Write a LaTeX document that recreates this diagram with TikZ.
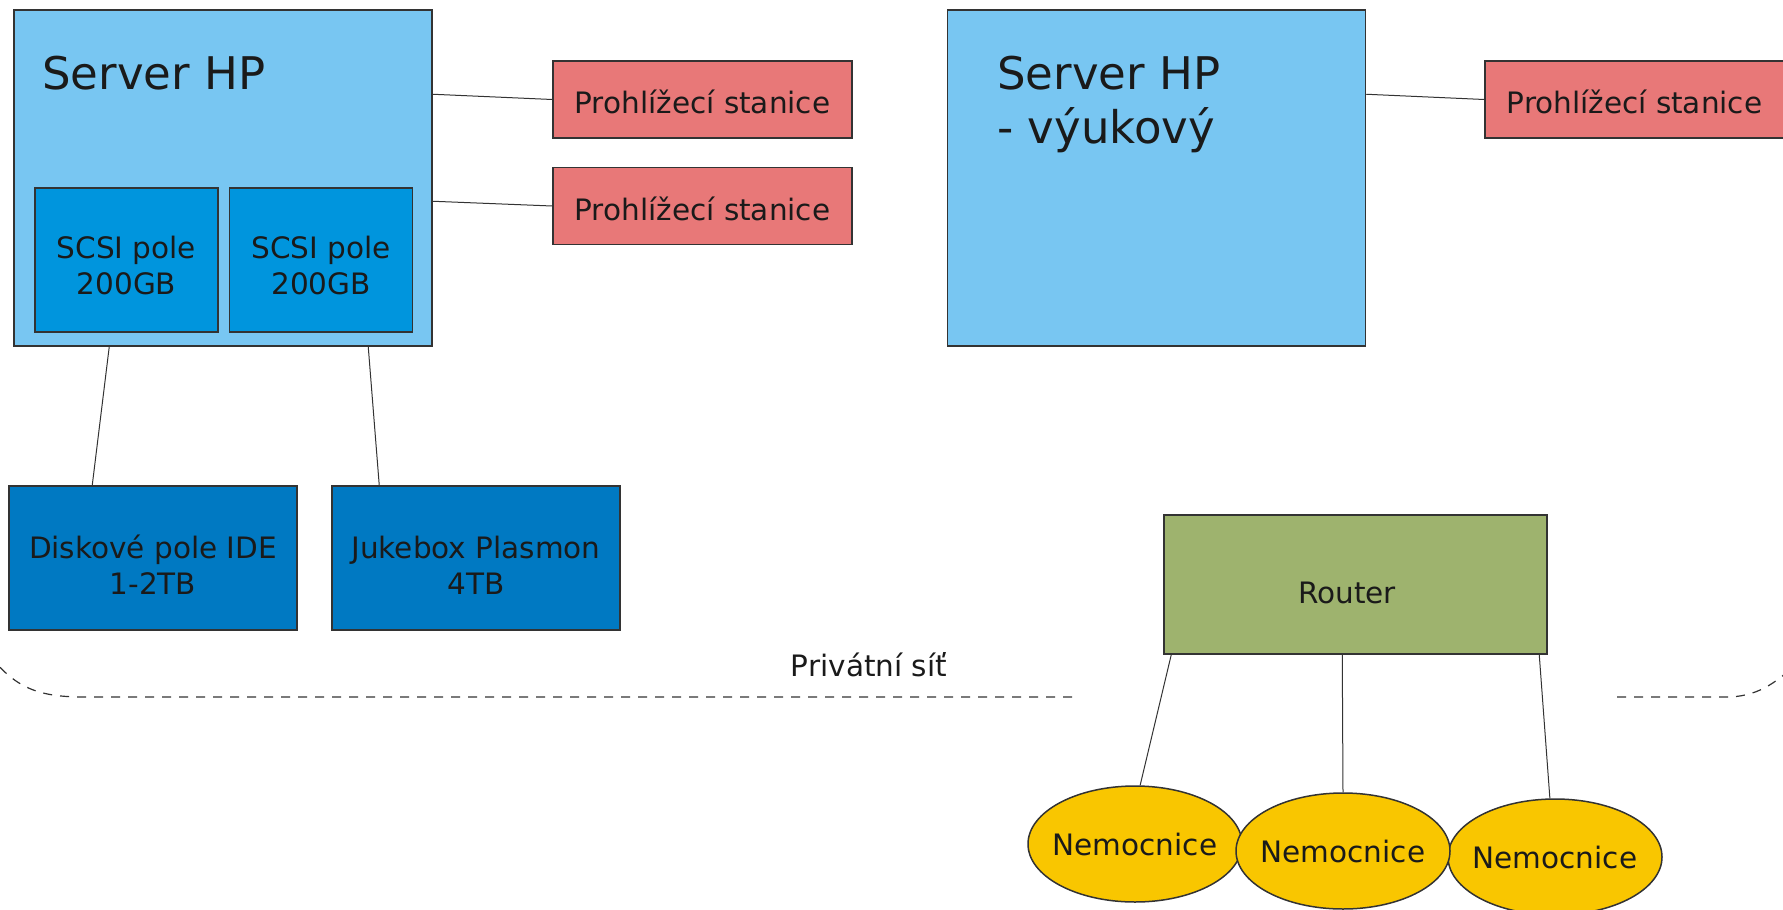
\documentclass[tikz,border=0pt]{standalone}
\usepackage{fontspec}
\setmainfont{DejaVu Sans}
\usetikzlibrary{calc, shapes.geometric}

\definecolor{serverblue}{HTML}{78C6F2}
\definecolor{scsiblue}{HTML}{0095DD}
\definecolor{diskblue}{HTML}{0079C2}
\definecolor{stationred}{HTML}{E87878}
\definecolor{routergreen}{HTML}{9EB36E}
\definecolor{hospyellow}{HTML}{F9C600}
\definecolor{edgegray}{HTML}{333333}
\definecolor{textblack}{HTML}{1A1A1A}
\newcommand{\topstrut}[1][16.5pt]{\rule{0pt}{#1}}

\begin{document}
\begin{tikzpicture}[x=0.5pt,y=-0.5pt,
	box/.style={draw=edgegray,line width=0.75pt,inner sep=0pt,align=center,text=textblack,font=\fontsize{14.75}{18}\selectfont},
	server/.style={box,fill=serverblue,minimum width=209pt,minimum height=168pt},
	station/.style={box,fill=stationred,minimum width=149.5pt,minimum height=38.5pt},
	scsi/.style={box,fill=scsiblue,minimum width=91.5pt,minimum height=72pt},
	storage/.style={box,fill=diskblue,minimum width=144pt,minimum height=72pt},
	hospital/.style={box,ellipse,inner xsep=-4pt,fill=hospyellow,minimum width=107pt,minimum height=58pt},
	bigtext/.style={inner sep=0pt,align=left,anchor=north west,text=textblack,font=\fontsize{22.5}{27}\selectfont},
	link/.style={draw=edgegray,line width=0.5pt}]
		\useasboundingbox (0,0) rectangle (1783,910);
		% servery
		\node[server](srvA)at(223,178){};
		\node[server](srvB)at(1156.5,178){};
		\node[bigtext](srvAtext)at(42,56){Server HP};
		\node[bigtext](srvBtext)at(997,56){Server HP\\- výukový};
		\node[scsi](scsiA)at(126.5,260){\topstrut SCSI pole\\200GB};
		\node[scsi](scsiB)at(321,260){\topstrut SCSI pole\\200GB};
		% stanice
		\node[station](stA)at(702.5,99.5){\topstrut[14.5pt]Prohlížecí stanice};
		\node[station](stB)at(702.5,206){\topstrut[14.5pt]Prohlížecí stanice};
		\node[station](stC)at(1634.5,99.5){\topstrut[14.5pt]Prohlížecí stanice};
		% uloziste
		\node[storage](disk)at(153,558){\topstrut[18pt]Diskové pole IDE\\1-2TB};
		\node[storage](juke)at(476,558){\topstrut[18pt]Jukebox Plasmon\\4TB};
		% privatni sit
		\draw[edgegray,line width=0.6pt,dash pattern=on 4.5pt off 4pt] (-20,640) .. controls (10,690) and (40,697) .. (85,697) -- (1078,697);
		\draw[edgegray,line width=0.6pt,dash pattern=on 4.5pt off 4pt] (1617,697) -- (1726,697) .. controls (1755,697) and (1775,685) .. (1800,660);
		\node[text=textblack,inner sep=0pt,font=\fontsize{14.75}{18}\selectfont](privlabel)at(869,665){Privátní síť};
		% router a nemocnice
		\node[box,fill=routergreen,minimum width=191.5pt,minimum height=69.5pt](router)at(1355.5,584.5){};
		\node[text=textblack,inner sep=0pt,font=\fontsize{14.75}{18}\selectfont](routertext)at(1347,593){Router};
		\node[hospital](nemA)at(1135,844){Nemocnice};
		\node[hospital](nemC)at(1555,857){Nemocnice};
		\node[hospital](nemB)at(1343,851){Nemocnice};
		% spojeni
		\draw[link] ($(srvA.north east)+(0,85)$)--(stA.west);
		\draw[link] ($(srvA.north east)+(0,192)$)--(stB.west);
		\draw[link] ($(srvB.north east)+(0,85)$)--(stC.west);
		\draw[link] ($(srvA.south west)+(96,0)$)--($(disk.north west)+(84,0)$);
		\draw[link] ($(srvA.south west)+(355,0)$)--($(juke.north west)+(48,0)$);
		\draw[link] ($(router.south west)+(8,0)$)--(nemA.85);
		\draw[link] ($(router.south west)+(179,0)$)--(nemB.north);
		\draw[link] ($(router.south west)+(376,0)$)--(nemC.95);
	\end{tikzpicture}
\end{document}
